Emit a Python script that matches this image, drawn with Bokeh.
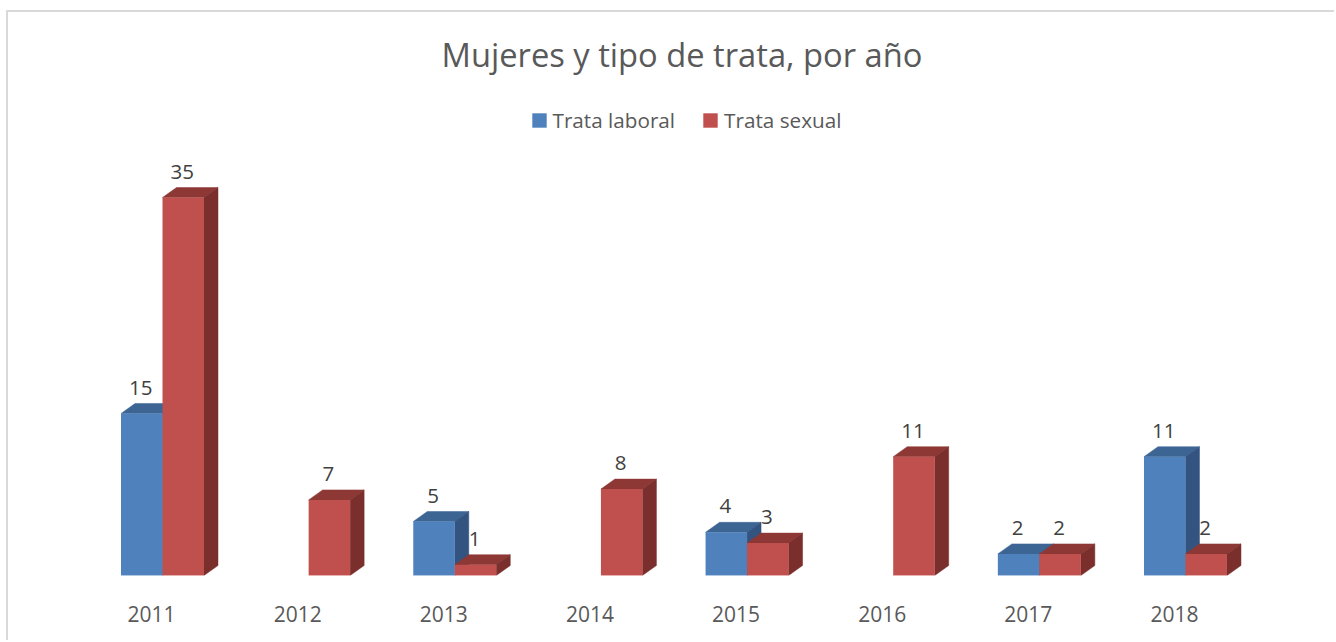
from bokeh.plotting import figure
from bokeh.models import Range1d, Legend, LegendItem, ColumnDataSource, Title, FixedTicker
from bokeh.core.properties import value
from bokeh.embed import file_html
from bokeh.resources import INLINE

years = [2011, 2012, 2013, 2014, 2015, 2016, 2017, 2018]
laboral = [15, 0, 5, 0, 4, 0, 2, 11]
sexual = [35, 7, 1, 8, 3, 11, 2, 2]
title_text = "Mujeres y tipo de trata, por año"
series_names = ["Trata laboral", "Trata sexual"]

FONT = "Open Sans"
CX, CY = 8, 12   # canvas origin on the page, inside the 2px CSS border
W, H = 1336 - CX, 642 - CY
TOP, BASE = 82 - CY, 575 - CY
PX_PER_UNIT = 10.8
PX_PER_CAT = 146.14
X0 = 151 - CX

BAR_W = 41.5 / PX_PER_CAT
GROUP_SHIFT = 11 / PX_PER_CAT
DX = 14 / PX_PER_CAT
DY = 10 / PX_PER_UNIT

p = figure(width=W, height=H, output_backend="svg", toolbar_location=None,
           x_range=Range1d(-X0 / PX_PER_CAT, (W - X0) / PX_PER_CAT),
           y_range=Range1d(0, (BASE - TOP) / PX_PER_UNIT),
           min_border_left=0, min_border_right=0, min_border_top=TOP, min_border_bottom=H - BASE,
           y_axis_location=None, outline_line_color=None, background_fill_color="white",
           border_fill_color="white", margin=(CY - 2, 0, 0, CX - 2))
p.styles = {"border-left": "2px solid #D9D9D9", "border-top": "2px solid #D9D9D9", "box-sizing": "border-box"}
p.grid.visible = False

p.title = Title(text=title_text, align="left", text_font=FONT, text_font_size="32.7px",
                text_color="#595959", text_font_style="normal", standoff=12, offset=441 - CX)

ax = p.xaxis[0]
ax.ticker = FixedTicker(ticks=list(range(len(years))))
ax.major_label_overrides = {i: str(y) for i, y in enumerate(years)}
ax.axis_line_color = None
ax.major_tick_line_color = None
ax.minor_tick_line_color = None
ax.major_label_standoff = 24
ax.major_label_text_font = FONT
ax.major_label_text_font_size = "21px"
ax.major_label_text_color = "#595959"


def draw(vals, shift, front, top, side, edge):
    idx = [i for i, v in enumerate(vals) if v > 0]
    xc = [i + GROUP_SHIFT + shift for i in idx]
    v = [vals[i] for i in idx]
    l = [x - BAR_W / 2 for x in xc]
    r = [x + BAR_W / 2 for x in xc]
    p.patches([[a, b, b + DX, a + DX] for a, b in zip(l, r)],
              [[t, t, t + DY, t + DY] for t in v],
              fill_color=top, line_color=top, line_width=0.5)
    p.patches([[b, b + DX, b + DX, b] for b in r],
              [[0, DY, t + DY, t] for t in v],
              fill_color=side, line_color=side, line_width=0.5)
    bars = p.vbar(x=xc, top=v, bottom=0, width=BAR_W, fill_color=front, line_color=None)
    p.segment(x0=l, x1=r, y0=[0] * len(l), y1=[0] * len(l), line_color=edge, line_width=1)
    src = ColumnDataSource(dict(x=xc, y=v, t=[str(a) for a in v]))
    return bars, src


b1, s1 = draw(laboral, -BAR_W / 2, "#4F81BD", "#3D6594", "#335380", "#8FB0DA")
b2, s2 = draw(sexual, BAR_W / 2, "#C0504D", "#8E3836", "#7B2F2D", "#E08F8C")

for s in (s1, s2):
    p.text(x="x", y="y", text="t", source=s, text_align="center", text_baseline="middle",
           y_offset=-26, x_offset=-1, text_font=value(FONT), text_font_size="20.5px", text_color="#404040")

legend = Legend(items=[LegendItem(label=series_names[0], renderers=[b1]),
                       LegendItem(label=series_names[1], renderers=[b2])],
                orientation="horizontal", location=(529.5 - CX, BASE - (133.5 - CY)), border_line_color=None,
                background_fill_color=None, label_text_font=FONT, label_text_font_size="20.7px",
                label_text_color="#595959", glyph_width=18, glyph_height=18, spacing=26,
                label_standoff=5, padding=0, margin=0, label_height=20)
p.add_layout(legend, "center")

open("out.html", "w").write(file_html(p, INLINE))
